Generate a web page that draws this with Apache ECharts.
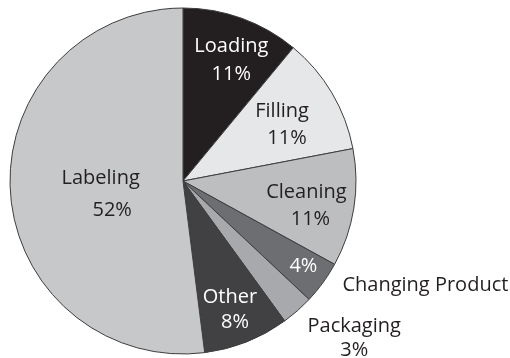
<!DOCTYPE html>
<html><head><meta charset="utf-8">
<script src="https://cdn.jsdelivr.net/npm/echarts@6/dist/echarts.min.js"></script>
<style>html,body{margin:0;padding:0;background:#fff}#c{width:510px;height:358px}</style>
</head><body><div id="c"></div>
<script>
const categories = ['Loading', 'Filling', 'Cleaning', 'Changing Product', 'Packaging', 'Other', 'Labeling'];
const values = [11, 11, 11, 4, 3, 8, 52];

// styling
const colors = ['#231f20', '#e6e7e8', '#bcbec0', '#6d6e71', '#a7a9ac', '#414042', '#c7c8ca'];
const textColors = ['#ffffff', '#231f20', '#231f20', '#ffffff', '#231f20', '#ffffff', '#231f20'];
const labelShift = [[18, -36], [22, -11], [35, 11], [48, 33], [112, 90], [14, 46], [7, 8]];
const lineGap = [28, 27, 27, 27, 24, 25, 32];
const secondLinePad = [0, 10, 8, 0, 0, 10, 23];
const nameShift = [170, 52];

const chart = echarts.init(document.getElementById('c'), null, {renderer: 'canvas'});
const font = '"Open Sans", sans-serif';
const FS = 20;

const data1 = categories.map((n, i) => ({
  name: n, value: values[i],
  itemStyle: {color: colors[i]},
  label: {
    color: textColors[i],
    rich: {
      a: {fontFamily: font, fontSize: FS, lineHeight: lineGap[i], color: textColors[i]},
      b: {fontFamily: font, fontSize: FS, lineHeight: lineGap[i], color: textColors[i],
          padding: [0, 0, 0, secondLinePad[i]]}
    }
  }
}));
const data2 = categories.map((n, i) => ({
  name: n, value: values[i],
  label: {show: n === 'Changing Product'}
}));

chart.setOption({
  animation: false,
  series: [{
    type: 'pie',
    center: [183, 181],
    radius: [0, 173],
    startAngle: 90,
    clockwise: true,
    data: data1,
    itemStyle: {borderColor: '#3d3d3d', borderWidth: 1},
    label: {
      show: true, position: 'inside',
      fontFamily: font, fontSize: FS,
      formatter: p => {
        if (p.name === 'Changing Product') return '{a|' + p.percent + '%}';
        return '{a|' + p.name + '}\n{b|' + p.percent + '%}';
      }
    },
    labelLine: {show: false},
    labelLayout: p => ({dx: labelShift[p.dataIndex][0], dy: labelShift[p.dataIndex][1]})
  }, {
    type: 'pie',
    silent: true,
    center: [183, 181],
    radius: [0, 173],
    startAngle: 90,
    clockwise: true,
    data: data2,
    itemStyle: {color: 'rgba(0,0,0,0)', borderWidth: 0},
    label: {
      position: 'inside', fontFamily: font, fontSize: FS, color: '#231f20',
      formatter: '{b}'
    },
    labelLine: {show: false},
    labelLayout: () => ({dx: nameShift[0], dy: nameShift[1]})
  }]
});
</script></body></html>
